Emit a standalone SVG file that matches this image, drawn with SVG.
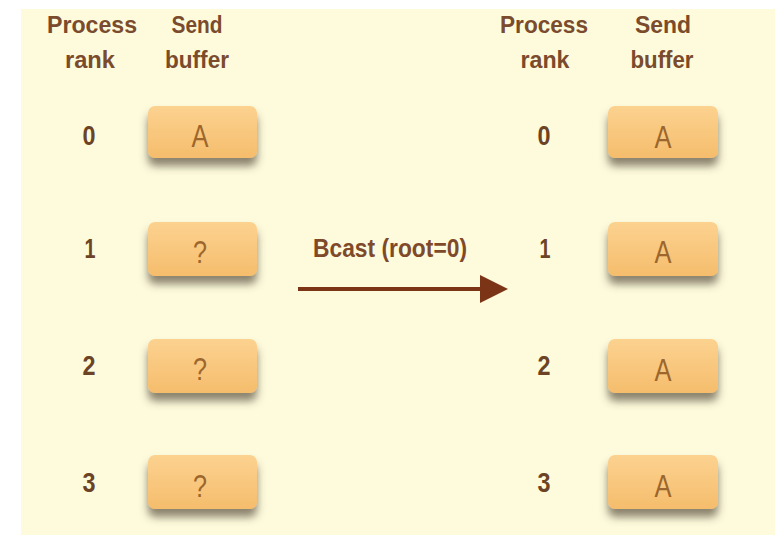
<svg xmlns="http://www.w3.org/2000/svg" width="775" height="535" viewBox="0 0 775 535">
  <style>
    .hdr { font-family: "Liberation Sans", Arial, sans-serif; font-weight: bold; font-size: 23px; fill: #7a4b2c; text-anchor: middle; }
    .num { font-family: "Liberation Sans", Arial, sans-serif; font-weight: bold; font-size: 27px; fill: #6c4324; text-anchor: middle; }
    .val { font-family: "Liberation Sans", Arial, sans-serif; font-size: 31px; fill: #9c662c; text-anchor: middle; }
    .lbl { font-family: "Liberation Sans", Arial, sans-serif; font-weight: bold; font-size: 26px; fill: #7e4a2a; }
    .box { fill: url(#boxFill); filter: url(#shadow); }
  </style>
  <defs>
    <linearGradient id="boxFill" x1="0" y1="0" x2="0" y2="1">
      <stop offset="0" stop-color="#fcd290"/>
      <stop offset="1" stop-color="#f5bd6c"/>
    </linearGradient>
    <filter id="shadow" x="-20%" y="-20%" width="140%" height="170%">
      <feDropShadow dx="0" dy="8" stdDeviation="4" flood-color="#4e4330" flood-opacity="0.65"/>
    </filter>
    <marker id="head" markerUnits="userSpaceOnUse" markerWidth="30" markerHeight="30" viewBox="0 0 30 30" refX="2" refY="15" orient="auto">
      <path d="M0,1 L28,15 L0,29 Z" fill="#7b3516"/>
    </marker>
  </defs>

  <!-- page -->
  <rect x="0" y="0" width="775" height="535" fill="#ffffff"/>
  <rect x="21" y="9" width="754" height="526" fill="#fefbdd"/>

  <!-- column headers -->
  <g id="headers">
    <text class="hdr" x="92" y="33" textLength="90" lengthAdjust="spacingAndGlyphs">Process</text>
    <text class="hdr" x="90" y="68" textLength="50" lengthAdjust="spacingAndGlyphs">rank</text>
    <text class="hdr" x="197" y="33" textLength="51" lengthAdjust="spacingAndGlyphs">Send</text>
    <text class="hdr" x="197" y="68" textLength="64" lengthAdjust="spacingAndGlyphs">buffer</text>
    <text class="hdr" x="544" y="33" textLength="88" lengthAdjust="spacingAndGlyphs">Process</text>
    <text class="hdr" x="545" y="68" textLength="49" lengthAdjust="spacingAndGlyphs">rank</text>
    <text class="hdr" x="663" y="33" textLength="56" lengthAdjust="spacingAndGlyphs">Send</text>
    <text class="hdr" x="662" y="68" textLength="63" lengthAdjust="spacingAndGlyphs">buffer</text>
  </g>

  <!-- before: rank numbers and send buffers -->
  <g id="before-0">
    <text class="num" x="89" y="145" textLength="13" lengthAdjust="spacingAndGlyphs">0</text>
    <rect class="box" x="148" y="106" width="109" height="52" rx="7"/>
    <text class="val" x="200" y="147" textLength="17" lengthAdjust="spacingAndGlyphs">A</text>
  </g>
  <g id="before-1">
    <text class="num" x="90" y="258" textLength="11" lengthAdjust="spacingAndGlyphs">1</text>
    <rect class="box" x="148" y="222" width="109" height="54" rx="7"/>
    <text class="val" x="200" y="263" textLength="14" lengthAdjust="spacingAndGlyphs">?</text>
  </g>
  <g id="before-2">
    <text class="num" x="89" y="375" textLength="13" lengthAdjust="spacingAndGlyphs">2</text>
    <rect class="box" x="148" y="339" width="109" height="54" rx="7"/>
    <text class="val" x="200" y="380" textLength="14" lengthAdjust="spacingAndGlyphs">?</text>
  </g>
  <g id="before-3">
    <text class="num" x="89" y="492" textLength="13" lengthAdjust="spacingAndGlyphs">3</text>
    <rect class="box" x="148" y="455" width="109" height="54" rx="7"/>
    <text class="val" x="200" y="497" textLength="14" lengthAdjust="spacingAndGlyphs">?</text>
  </g>

  <!-- after: rank numbers and send buffers -->
  <g id="after-0">
    <text class="num" x="544" y="145" textLength="13" lengthAdjust="spacingAndGlyphs">0</text>
    <rect class="box" x="608" y="106" width="110" height="52" rx="7"/>
    <text class="val" x="663" y="148" textLength="17" lengthAdjust="spacingAndGlyphs">A</text>
  </g>
  <g id="after-1">
    <text class="num" x="545" y="258" textLength="11" lengthAdjust="spacingAndGlyphs">1</text>
    <rect class="box" x="608" y="222" width="110" height="54" rx="7"/>
    <text class="val" x="663" y="263" textLength="17" lengthAdjust="spacingAndGlyphs">A</text>
  </g>
  <g id="after-2">
    <text class="num" x="544" y="375" textLength="13" lengthAdjust="spacingAndGlyphs">2</text>
    <rect class="box" x="608" y="339" width="110" height="54" rx="7"/>
    <text class="val" x="663" y="381" textLength="17" lengthAdjust="spacingAndGlyphs">A</text>
  </g>
  <g id="after-3">
    <text class="num" x="544" y="492" textLength="13" lengthAdjust="spacingAndGlyphs">3</text>
    <rect class="box" x="608" y="455" width="110" height="54" rx="7"/>
    <text class="val" x="663" y="497" textLength="17" lengthAdjust="spacingAndGlyphs">A</text>
  </g>

  <!-- broadcast arrow -->
  <g id="connectors">
    <text class="lbl" x="313" y="257" textLength="154" lengthAdjust="spacingAndGlyphs">Bcast (root=0)</text>
    <line x1="298" y1="289" x2="482" y2="289" stroke="#7b3516" stroke-width="4" marker-end="url(#head)"/>
  </g>
</svg>
